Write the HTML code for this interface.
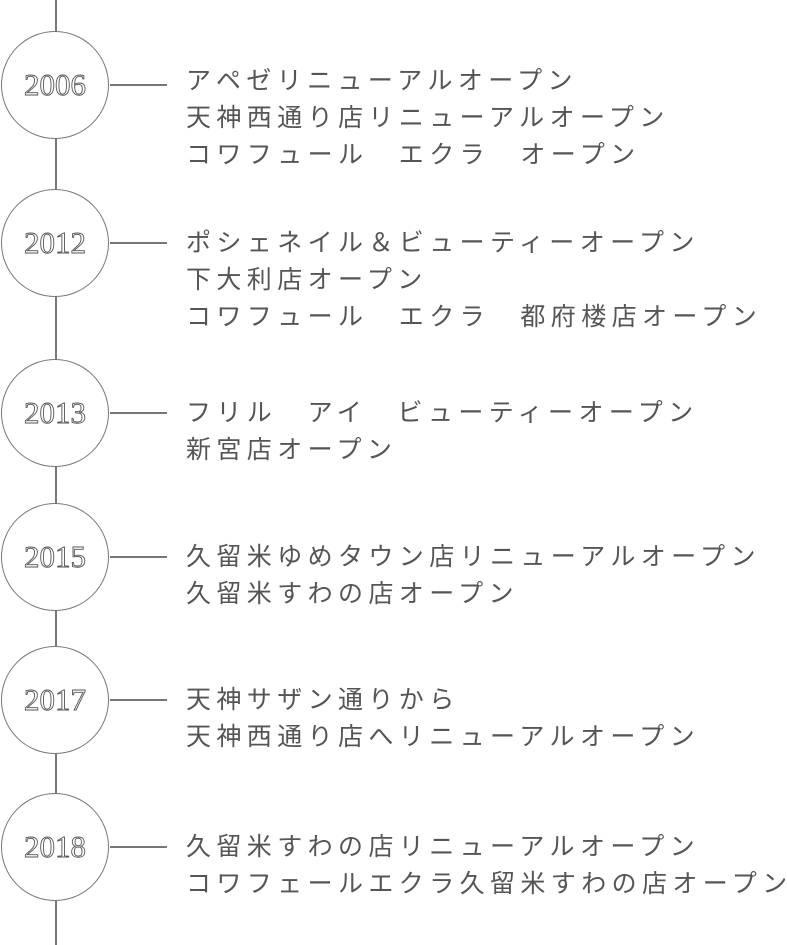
<!DOCTYPE html>
<html><head><meta charset="utf-8"><style>
body{margin:0;width:787px;height:945px;background:#fff;position:relative;overflow:hidden;font-family:"Liberation Sans","Noto Sans CJK JP",sans-serif}
.v{position:absolute;left:55px;top:0;width:1.5px;height:945px;background:#777}
.c{position:absolute;left:1px;width:106px;height:106px;border:1.5px solid #777;border-radius:50%;background:#fff;display:flex;align-items:center;justify-content:center;font-family:"Liberation Serif","DejaVu Serif","Noto Serif CJK SC",serif;font-size:31px;color:#fff;-webkit-text-stroke:0.9px #555}
.h{position:absolute;left:110px;width:57px;height:1.5px;background:#777}
.t{position:absolute;left:186px;font-size:25px;line-height:37px;letter-spacing:5.4px;color:#555;white-space:nowrap}
</style></head><body>
<div class="v"></div>
<div class="c" style="top:31px">2006</div><div class="h" style="top:84px"></div>
<div class="t" style="top:63px">アペゼリニューアルオープン<br>天神西通り店リニューアルオープン<br>コワフュール　エクラ　オープン</div>
<div class="c" style="top:189px">2012</div><div class="h" style="top:242px"></div>
<div class="t" style="top:225px">ポシェネイル＆ビューティーオープン<br>下大利店オープン<br>コワフュール　エクラ　都府楼店オープン</div>
<div class="c" style="top:359px">2013</div><div class="h" style="top:412px"></div>
<div class="t" style="top:395px">フリル　アイ　ビューティーオープン<br>新宮店オープン</div>
<div class="c" style="top:503px">2015</div><div class="h" style="top:556px"></div>
<div class="t" style="top:539px">久留米ゆめタウン店リニューアルオープン<br>久留米すわの店オープン</div>
<div class="c" style="top:646px">2017</div><div class="h" style="top:699px"></div>
<div class="t" style="top:682px">天神サザン通りから<br>天神西通り店へリニューアルオープン</div>
<div class="c" style="top:793px">2018</div><div class="h" style="top:846px"></div>
<div class="t" style="top:829px">久留米すわの店リニューアルオープン<br>コワフェールエクラ久留米すわの店オープン</div>
</body></html>
